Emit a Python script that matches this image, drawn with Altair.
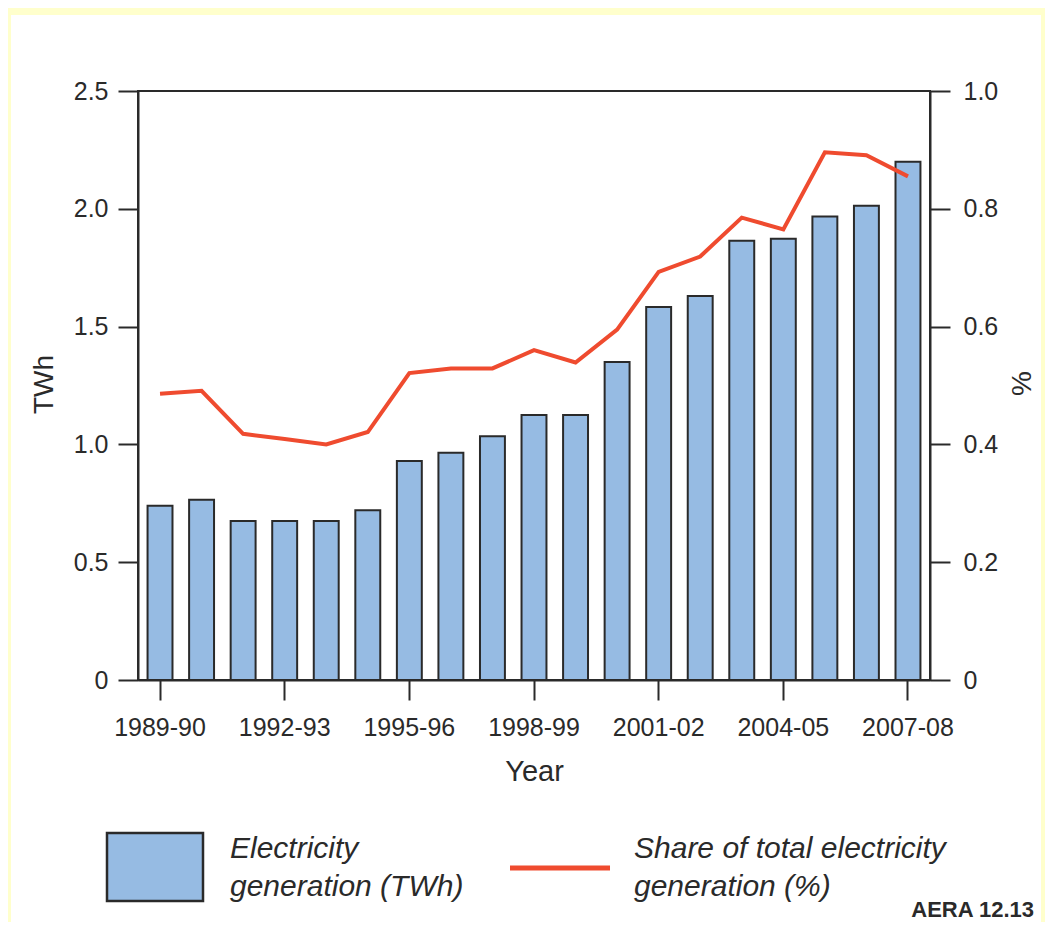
import altair as alt
import pandas as pd

years = ["1989-90", "1990-91", "1991-92", "1992-93", "1993-94", "1994-95",
         "1995-96", "1996-97", "1997-98", "1998-99", "1999-00", "2000-01",
         "2001-02", "2002-03", "2003-04", "2004-05", "2005-06", "2006-07",
         "2007-08"]
generation_twh = [0.74, 0.765, 0.675, 0.675, 0.675, 0.72, 0.93, 0.965, 1.035,
                  1.125, 1.125, 1.35, 1.583, 1.63, 1.864, 1.873, 1.967, 2.013,
                  2.2]
share_pct = [0.486, 0.491, 0.418, 0.409, 0.400, 0.421, 0.521, 0.529, 0.529,
             0.560, 0.539, 0.595, 0.693, 0.719, 0.785, 0.765, 0.896, 0.891,
             0.855]
x_tick_labels = ["1989-90", "1992-93", "1995-96", "1998-99", "2001-02",
                 "2004-05", "2007-08"]
left_ticks = [0, 0.5, 1.0, 1.5, 2.0, 2.5]
right_ticks = [0, 0.2, 0.4, 0.6, 0.8, 1.0]

df = pd.DataFrame({"year": years, "twh": generation_twh, "share": share_pct})

W, H = 792, 589
CANVAS_W, CANVAS_H = 1037, 914
PAD_L, PAD_T = 130, 83
BAR = "#96BBE3"
RED = "#EF4B2F"
INK = "#2a2a2a"
YEL = "#FFFFCC"
FONT = "Liberation Sans"
BOTTOM = CANVAS_H - PAD_T          # canvas bottom in view coordinates
RIGHT = CANVAS_W - PAD_L           # canvas right in view coordinates

x_enc = alt.X(
    "year:N", sort=years,
    scale=alt.Scale(paddingInner=0.4, paddingOuter=0.23),
    axis=alt.Axis(values=x_tick_labels, labelAngle=0, tickSize=20, tickWidth=2,
                  tickColor=INK, domainColor=INK, domainWidth=2,
                  labelFontSize=25, labelFont=FONT, labelColor=INK,
                  labelBaseline="alphabetic", labelPadding=35,
                  title="Year", titleFont=FONT, titleFontSize=29,
                  titleFontWeight="normal", titleColor=INK,
                  titleBaseline="alphabetic", titleY=100, grid=False, zindex=1),
)

bars = alt.Chart(df).mark_bar(color=BAR, stroke=INK, strokeWidth=2).encode(
    x=x_enc,
    y=alt.Y("twh:Q", scale=alt.Scale(domain=[0, 2.5], nice=False),
            axis=alt.Axis(orient="left", values=left_ticks,
                          labelExpr="datum.value == 0 ? '0' : format(datum.value, '.1f')",
                          tickSize=20, tickWidth=2, tickColor=INK,
                          domainColor=INK, domainWidth=2, labelFontSize=25,
                          labelFont=FONT, labelColor=INK, labelPadding=10,
                          title="TWh", titleFont=FONT, titleFontSize=28,
                          titleFontWeight="normal", titleColor=INK,
                          titleAngle=270, titleX=-94, titleY=293,
                          titleAlign="center", titleBaseline="middle",
                          grid=False, zindex=1)),
)

line = alt.Chart(df).mark_line(color=RED, strokeWidth=4).encode(
    x=alt.X("year:N", sort=years),
    y=alt.Y("share:Q", scale=alt.Scale(domain=[0, 1.0], nice=False),
            axis=alt.Axis(orient="right", values=right_ticks,
                          labelExpr="datum.value == 0 ? '0' : format(datum.value, '.1f')",
                          tickSize=20, tickWidth=2, tickColor=INK,
                          domainColor=INK, domainWidth=2, labelFontSize=25,
                          labelFont=FONT, labelColor=INK, labelPadding=13,
                          title="%", titleFont=FONT, titleFontSize=28,
                          titleFontWeight="normal", titleColor=INK,
                          titleAngle=270, titleX=92, titleY=292,
                          titleAlign="center", titleBaseline="middle",
                          grid=False, zindex=1)),
)

one = pd.DataFrame({"k": [0]})

def box(x1, x2, y1, y2, **kw):
    return alt.Chart(one).mark_rect(**kw).encode(
        x=alt.value(x1), x2=alt.value(x2), y=alt.value(y1), y2=alt.value(y2))

def txt(s, x, y, size, **kw):
    return alt.Chart(one).mark_text(text=s, fontSize=size, font=FONT,
                                    color=INK, baseline="alphabetic", **kw
                                    ).encode(x=alt.value(x), y=alt.value(y))

frame_top = box(-PAD_L, RIGHT, -PAD_T, -76, color=YEL)
frame_left = box(-PAD_L, -127, -PAD_T, BOTTOM, color=YEL)
frame_right = box(RIGHT - 4, RIGHT, -PAD_T, BOTTOM, color=YEL)

leg_rect = box(-31, 65, 742, 810, fill=BAR, stroke=INK, strokeWidth=2.5)
leg_line = alt.Chart(one).mark_rule(color=RED, strokeWidth=5).encode(
    x=alt.value(372), x2=alt.value(472), y=alt.value(777))

t1 = txt("Electricity", 92, 767, 30, fontStyle="italic", align="left")
t2 = txt("generation (TWh)", 92, 805, 30, fontStyle="italic", align="left")
t3 = txt("Share of total electricity", 496, 767, 30, fontStyle="italic", align="left")
t4 = txt("generation (%)", 496, 805, 30, fontStyle="italic", align="left")
t5 = txt("AERA 12.13", 896, 826, 22, fontWeight="bold", align="right")

chart = alt.layer(
    bars, line, frame_top, frame_left, frame_right,
    leg_rect, leg_line, t1, t2, t3, t4, t5,
).resolve_scale(y="independent").properties(
    width=W, height=H,
    padding={"left": PAD_L, "top": PAD_T, "right": CANVAS_W - PAD_L - W,
             "bottom": CANVAS_H - PAD_T - H},
    autosize=alt.AutoSizeParams(type="none"),
    background="white",
).configure_view(stroke=INK, strokeWidth=2)

chart.save("out.html", embed_options={"renderer": "svg", "actions": False})
